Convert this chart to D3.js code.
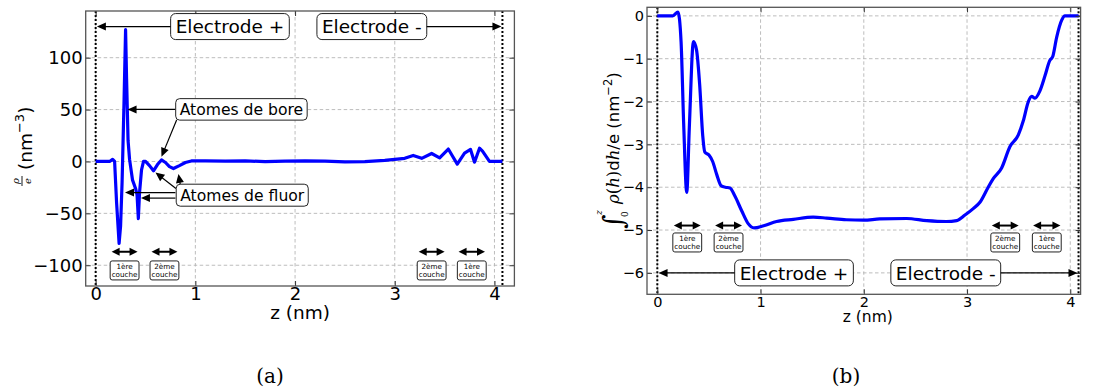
<!DOCTYPE html>
<html><head><meta charset="utf-8">
<script src="https://cdn.jsdelivr.net/npm/d3@7"></script>
<style>body{margin:0;background:#fff} svg{display:block}</style>
</head><body><svg id="c" width="1102" height="392"></svg>
<script>
// ---------- DATA ----------
const zA   = [0,0.14,0.17,0.19,0.21,0.235,0.25,0.265,0.285,0.30,0.31,0.325,0.34,0.37,0.40,0.415,0.428,0.44,0.46,0.48,0.50,0.54,0.58,0.62,0.66,0.70,0.74,0.78,0.84,0.90,0.96,1.1,1.3,1.5,1.7,1.9,2.1,2.3,2.5,2.7,2.9,3.0,3.1,3.185,3.27,3.37,3.45,3.537,3.58,3.627,3.70,3.76,3.80,3.85,3.88,3.95,4.08];
const rhoA = [0,0,2,0,-40,-79,-62,-20,60,127,80,20,2,-18,-26,-32,-55,-30,-8,0,0,-4,-9,-3,1.5,-1,-5,-6.8,-4,-1,0.5,0.5,0.3,0.6,-0.2,0.3,0.6,0.4,-0.3,-0.2,1,2,3,5.8,3,7.7,3.5,12,5,-2.6,8,11.6,-0.7,12.8,10,0,0];

const zB   = [0,0.15,0.2,0.23,0.255,0.285,0.31,0.35,0.38,0.41,0.44,0.46,0.50,0.536,0.575,0.62,0.66,0.704,0.75,0.817,0.88,0.937,1.03,1.155,1.318,1.51,1.64,1.83,2.0,2.155,2.415,2.61,2.8,2.9,2.98,3.06,3.125,3.205,3.254,3.335,3.416,3.497,3.545,3.594,3.626,3.658,3.706,3.755,3.80,3.83,3.868,3.917,3.948,4.08];
const intB = [0,0,0.09,-0.6,-2.5,-4.12,-2.6,-0.6,-0.8,-1.6,-2.8,-3.18,-3.25,-3.4,-3.7,-3.97,-4.0,-4.02,-4.2,-4.55,-4.85,-4.95,-4.9,-4.8,-4.75,-4.7,-4.72,-4.76,-4.77,-4.74,-4.73,-4.78,-4.8,-4.78,-4.65,-4.5,-4.35,-4.0,-3.8,-3.55,-3.05,-2.78,-2.45,-2.0,-1.88,-1.92,-1.75,-1.4,-1.05,-0.95,-0.5,-0.1,0,0];

const xTicks  = [0,1,2,3,4];
const yTicksA = [-100,-50,0,50,100];
const yTicksB = [-6,-5,-4,-3,-2,-1,0];
const electrodeLabels = ["Electrode +","Electrode -"];
const layerLabels = [["1ère","couche"],["2ème","couche"],["2ème","couche"],["1ère","couche"]];
const layerSpans  = [[0.16,0.42],[0.56,0.82],[3.24,3.50],[3.64,3.905]];
const wallZ = [0, 4.08];
const panelLabels = ["(a)","(b)"];

// ---------- HELPERS ----------
const svg = d3.select("#c");
const SANS = "DejaVu Sans";

function arrow(g, x1, y1, x2, y2, o = {}) {
  const lw = o.lw || 1.2, hl = o.hl || 9, hw = o.hw || 8;
  const dx = x2 - x1, dy = y2 - y1, L = Math.hypot(dx, dy);
  const ux = dx / L, uy = dy / L, px = -uy, py = ux;
  const head = (tx, ty, sx, sy) => {
    const bx = tx - sx * hl, by = ty - sy * hl;
    g.append("path")
      .attr("d", `M${tx},${ty}L${bx + px * hw / 2},${by + py * hw / 2}L${bx - px * hw / 2},${by - py * hw / 2}Z`)
      .attr("fill", "#000");
  };
  let sx = x1, sy = y1;
  if (o.both) { head(x1, y1, -ux, -uy); sx = x1 + ux * hl * 0.8; sy = y1 + uy * hl * 0.8; }
  head(x2, y2, ux, uy);
  g.append("line").attr("x1", sx).attr("y1", sy)
    .attr("x2", x2 - ux * hl * 0.8).attr("y2", y2 - uy * hl * 0.8)
    .attr("stroke", "#000").attr("stroke-width", lw);
}

function textBox(g, lines, cx, cy, fs, o = {}) {
  const padX = o.padX ?? 5, h = o.h, rx = o.rx ?? 5, lh = o.lh ?? fs * 1.15;
  const grp = g.append("g");
  const rect = grp.append("rect");
  const texts = lines.map((t, i) =>
    grp.append("text").attr("x", cx)
      .attr("y", cy + (i - (lines.length - 1) / 2) * lh + fs * 0.36)
      .attr("text-anchor", "middle").attr("font-family", SANS)
      .attr("font-size", fs).attr("fill", "#000").text(t));
  let w = 0; texts.forEach(t => { w = Math.max(w, t.node().getComputedTextLength()); });
  const bw = w + 2 * padX;
  rect.attr("x", cx - bw / 2).attr("y", cy - h / 2).attr("width", bw).attr("height", h)
    .attr("rx", rx).attr("fill", "#fff").attr("stroke", o.stroke || "#222")
    .attr("stroke-width", o.sw || 1);
  return { x0: cx - bw / 2, x1: cx + bw / 2, y0: cy - h / 2, y1: cy + h / 2 };
}

function panel(c) {
  const x = d3.scaleLinear().domain(c.xd).range([c.l, c.r]);
  const y = d3.scaleLinear().domain(c.yd).range([c.b, c.t]);
  const g = svg.append("g");
  // grid
  const grid = g.append("g").attr("stroke", "#b5b5b5").attr("stroke-width", 0.9).attr("stroke-dasharray", "3.5,2.5");
  xTicks.forEach(v => grid.append("line").attr("x1", x(v)).attr("x2", x(v)).attr("y1", c.t).attr("y2", c.b));
  c.yTicks.forEach(v => grid.append("line").attr("x1", c.l).attr("x2", c.r).attr("y1", y(v)).attr("y2", y(v)));
  // walls
  wallZ.forEach(v => g.append("line").attr("x1", x(v)).attr("x2", x(v)).attr("y1", c.t).attr("y2", c.b)
    .attr("stroke", "#000").attr("stroke-width", 2).attr("stroke-dasharray", "2,2"));
  // curve
  const line = d3.line().x((d, i) => x(c.zs[i])).y(d => y(d)).curve(c.curve);
  g.append("path").datum(c.vals).attr("d", line).attr("fill", "none")
    .attr("stroke", "#0000ff").attr("stroke-width", 3.2).attr("stroke-linejoin", "round");
  // axes
  const ax = d3.axisBottom(x).tickValues(xTicks).tickSize(-5).tickPadding(c.xpad).tickFormat(d3.format("d"));
  const ay = d3.axisLeft(y).tickValues(c.yTicks).tickSize(-5).tickPadding(3)
    .tickFormat(d => d < 0 ? "\u2212" + Math.abs(d) : d);
  const gx = g.append("g").attr("transform", `translate(0,${c.b})`).call(ax);
  const gy = g.append("g").attr("transform", `translate(${c.l},0)`).call(ay);
  const gxt = g.append("g").attr("transform", `translate(0,${c.t})`).call(d3.axisTop(x).tickValues(xTicks).tickSize(-5).tickFormat(""));
  const gyr = g.append("g").attr("transform", `translate(${c.r},0)`).call(d3.axisRight(y).tickValues(c.yTicks).tickSize(-5).tickFormat(""));
  [gx, gy, gxt, gyr].forEach(a => {
    a.select(".domain").remove();
    a.selectAll("line").attr("stroke", "#333");
    a.selectAll("text").attr("font-family", SANS).attr("font-size", c.fs).attr("fill", "#000");
  });
  g.append("rect").attr("x", c.l).attr("y", c.t).attr("width", c.r - c.l).attr("height", c.b - c.t)
    .attr("fill", "none").attr("stroke", "#555").attr("stroke-width", 1.3);
  // x label
  g.append("text").attr("x", (c.l + c.r) / 2 + c.xlabdx).attr("y", c.xlaby).attr("text-anchor", "middle")
    .attr("font-family", SANS).attr("font-size", c.xlabfs).text("z (nm)");
  // layer annotations
  layerSpans.forEach((s, i) => {
    arrow(g, x(s[0]), y(c.layerArrowY), x(s[1]), y(c.layerArrowY), { both: true, lw: 2, hl: 8, hw: 8 });
    textBox(g, layerLabels[i], x((s[0] + s[1]) / 2), y(c.layerBoxY), 7.2, { padX: 1.5, h: 19, rx: 2, lh: 8.6, sw: 1 });
  });
  // electrode boxes
  const e1 = textBox(g, [electrodeLabels[0]], x(c.elecZ[0]), y(c.elecY), 18.5, { padX: 5, h: 26, rx: 5 });
  arrow(g, e1.x0, y(c.elecY), x(0.012), y(c.elecY), { lw: 1.3, hl: 9, hw: 8 });
  const e2 = textBox(g, [electrodeLabels[1]], x(c.elecZ[1]), y(c.elecY), 18.5, { padX: 5, h: 26, rx: 5 });
  arrow(g, e2.x1, y(c.elecY), x(4.07), y(c.elecY), { lw: 1.3, hl: 9, hw: 8 });
  // panel label
  svg.append("text").attr("x", c.plabx).attr("y", 383).attr("text-anchor", "middle")
    .attr("font-family", "DejaVu Serif").attr("font-size", 20).text(c.plab);
  return { x, y, g };
}

// ---------- PANEL A ----------
const A = panel({
  xd: [-0.1, 4.2], yd: [-120, 145], l: 85.7, r: 514.4, t: 11, b: 286,
  yTicks: yTicksA, zs: zA, vals: rhoA, curve: d3.curveLinear, fs: 18, xpad: 1,
  xlabdx: 0, xlaby: 319, xlabfs: 18.5,
  layerArrowY: -87, layerBoxY: -105, elecZ: [1.347, 2.77], elecY: 130,
  plab: panelLabels[0], plabx: 270
});
// atom annotations
{
  const { x, y, g } = A;
  arrow(g, x(0.80), y(50.2), x(0.32), y(50.2), { lw: 1.2, hl: 9, hw: 8 });
  arrow(g, x(0.812), y(39.9), x(0.66), y(4.5), { lw: 1.2, hl: 9, hw: 8 });
  arrow(g, x(0.80), y(-30), x(0.294), y(-30), { lw: 1.2, hl: 9, hw: 8 });
  arrow(g, x(0.80), y(-35.3), x(0.454), y(-35.3), { lw: 1.2, hl: 9, hw: 8 });
  arrow(g, x(0.805), y(-26), x(0.60), y(-10.6), { lw: 1.2, hl: 9, hw: 8 });
  arrow(g, x(0.85), y(-23), x(0.83), y(-12), { lw: 1.2, hl: 9, hw: 8 });
  textBox(g, ["Atomes de bore"], x(1.462), y(50.2), 15.6, { padX: 4, h: 21.5, rx: 4 });
  textBox(g, ["Atomes de fluor"], x(1.47), y(-32.5), 15.6, { padX: 4, h: 22, rx: 4 });
  // y label
  const yl = svg.append("g").attr("transform", "translate(31.5,188) rotate(-90)");
  yl.append("text").attr("x", 7).attr("y", -12.5).attr("text-anchor", "middle")
    .attr("font-family", "DejaVu Serif").attr("font-style", "italic").attr("font-size", 10).text("ρ");
  yl.append("line").attr("x1", 2).attr("x2", 12).attr("y1", -9.5).attr("y2", -9.5).attr("stroke", "#000").attr("stroke-width", 0.9);
  yl.append("text").attr("x", 7).attr("y", -1).attr("text-anchor", "middle")
    .attr("font-family", "DejaVu Serif").attr("font-style", "italic").attr("font-size", 10).text("e");
  const t = yl.append("text").attr("x", 18).attr("y", 0).attr("font-family", SANS).attr("font-size", 18.5);
  t.append("tspan").text("(nm");
  t.append("tspan").attr("font-size", 13).attr("dy", -8).text("\u22123");
  t.append("tspan").attr("dy", 8).text(")");
}

// ---------- PANEL B ----------
const B = panel({
  xd: [-0.1, 4.1], yd: [-6.5, 0.2], l: 647, r: 1080.6, t: 7.3, b: 294.3,
  yTicks: yTicksB, zs: zB, vals: intB, curve: d3.curveMonotoneX, fs: 14.5, xpad: 2,
  xlabdx: 4, xlaby: 322, xlabfs: 15.5,
  layerArrowY: -4.895, layerBoxY: -5.29, elecZ: [1.324, 2.794], elecY: -6.0,
  plab: panelLabels[1], plabx: 846
});
{
  const yl = svg.append("g").attr("transform", "translate(619,229) rotate(-90)");
  yl.append("text").attr("x", 0).attr("y", 4).attr("font-family", "DejaVu Serif").attr("font-size", 28).text("∫");
  yl.append("text").attr("x", 12).attr("y", 9).attr("font-family", "DejaVu Serif").attr("font-size", 9).text("0");
  yl.append("text").attr("x", 14).attr("y", -17).attr("font-family", "DejaVu Serif").attr("font-style", "italic").attr("font-size", 9).text("z");
  const t = yl.append("text").attr("x", 25).attr("y", 0).attr("font-family", SANS).attr("font-size", 16.5);
  t.append("tspan").attr("font-family", "DejaVu Serif").attr("font-style", "italic").text("ρ");
  t.append("tspan").attr("font-family", "DejaVu Serif").text("(");
  t.append("tspan").attr("font-family", "DejaVu Serif").attr("font-style", "italic").text("h");
  t.append("tspan").attr("font-family", "DejaVu Serif").text(")");
  t.append("tspan").text("d");
  t.append("tspan").attr("font-family", "DejaVu Serif").attr("font-style", "italic").text("h");
  t.append("tspan").text("/e (nm");
  t.append("tspan").attr("font-size", 11.5).attr("dy", -7).text("\u22122");
  t.append("tspan").attr("dy", 7).text(")");
}
</script></body></html>
